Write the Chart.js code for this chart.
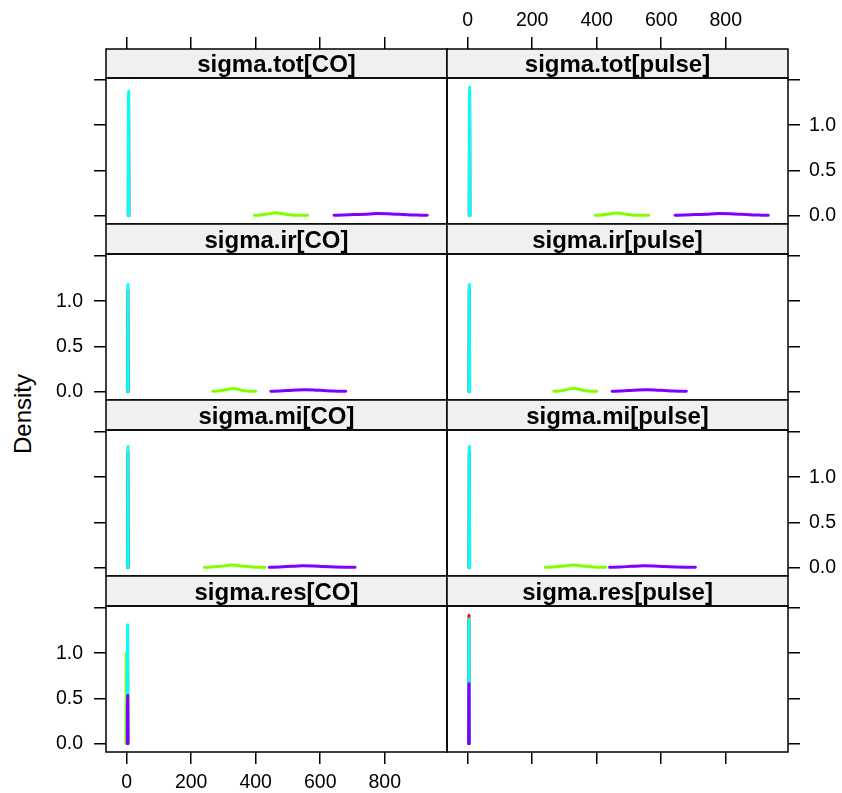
<!DOCTYPE html>
<html>
<head>
<meta charset="utf-8">
<script src="https://cdn.jsdelivr.net/npm/chart.js@4/dist/chart.umd.min.js"></script>
<style>
  html, body { margin: 0; padding: 0; background: #fff; }
  #wrap { position: relative; width: 842px; height: 793px; }
  #wrap canvas { position: absolute; left: 0; top: 0; }
  #ylab {
    position: absolute; left: 23px; top: 414px;
    transform: translate(-50%, -50%) rotate(-90deg);
    font: 24px "Liberation Sans", Arial, sans-serif; line-height: 1; white-space: nowrap;
  }
</style>
</head>
<body>
<div id="wrap"><div id="ylab">Density</div></div>
<script>
const panelNames = ['sigma.tot[CO]', 'sigma.tot[pulse]', 'sigma.ir[CO]', 'sigma.ir[pulse]',
  'sigma.mi[CO]', 'sigma.mi[pulse]', 'sigma.res[CO]', 'sigma.res[pulse]'];
const xTicks = [0, 200, 400, 600, 800];
const xTickLabels = ['0', '200', '400', '600', '800'];
const yTicks = [0, 0.5, 1, 1.5];
const yTickLabels = ['0.0', '0.5', '1.0', ''];
// chains 1-4
const chainColors = ['#FF0000', '#80FF00', '#00FFFF', '#8000FF'];

// density estimates per chain, [value, density]
const totCO = [
  [[5, 0], [5.5, 0.8], [6, 1.3], [6.5, 0.8], [7, 0]],
  [[396, 0.001], [415, 0.005], [432, 0.012], [448, 0.022], [462, 0.029], [476, 0.024], [492, 0.013], [510, 0.006], [530, 0.003], [548, 0.002], [561, 0.001]],
  [[5, 0], [5.5, 0.85], [6, 1.375], [6.5, 0.85], [7, 0]],
  [[643, 0.001], [672, 0.004], [705, 0.009], [740, 0.014], [775, 0.02], [810, 0.018], [845, 0.012], [880, 0.006], [910, 0.003], [932, 0.001]]
];
const totPulse = [
  [[5, 0], [5.5, 0.8], [6, 1.36], [6.5, 0.8], [7, 0]],
  [[396, 0.001], [415, 0.005], [432, 0.012], [448, 0.021], [462, 0.027], [476, 0.023], [492, 0.012], [510, 0.006], [530, 0.003], [548, 0.002], [561, 0.001]],
  [[5, 0], [5.5, 0.88], [6, 1.42], [6.5, 0.88], [7, 0]],
  [[643, 0.001], [672, 0.004], [705, 0.009], [740, 0.014], [780, 0.02], [815, 0.018], [850, 0.012], [885, 0.006], [912, 0.003], [932, 0.001]]
];
const irCO = [
  [[3, 0], [3.5, 0.7], [4, 1.12], [4.5, 0.7], [5, 0]],
  [[267, 0.002], [285, 0.006], [300, 0.013], [315, 0.024], [331, 0.032], [345, 0.024], [360, 0.01], [375, 0.004], [390, 0.002], [400, 0.001]],
  [[3, 0], [3.5, 0.74], [4, 1.185], [4.5, 0.74], [5, 0]],
  [[447, 0.001], [475, 0.005], [505, 0.011], [530, 0.016], [555, 0.018], [580, 0.016], [610, 0.01], [640, 0.004], [665, 0.002], [679, 0.001]]
];
const irPulse = [
  [[4, 0], [4.5, 0.7], [5, 1.13], [5.5, 0.7], [6, 0]],
  [[267, 0.002], [285, 0.006], [300, 0.014], [315, 0.026], [330, 0.034], [345, 0.025], [360, 0.011], [375, 0.004], [390, 0.002], [400, 0.001]],
  [[4, 0], [4.5, 0.74], [5, 1.185], [5.5, 0.74], [6, 0]],
  [[448, 0.001], [476, 0.005], [506, 0.011], [530, 0.016], [555, 0.018], [580, 0.016], [610, 0.01], [640, 0.004], [664, 0.002], [678, 0.001]]
];
const miCO = [
  [[3, 0], [3.5, 0.8], [4, 1.28], [4.5, 0.8], [5, 0]],
  [[241, 0.001], [265, 0.005], [290, 0.012], [310, 0.021], [326, 0.026], [345, 0.022], [365, 0.012], [390, 0.005], [410, 0.002], [429, 0.001]],
  [[3, 0], [3.5, 0.84], [4, 1.34], [4.5, 0.84], [5, 0]],
  [[442, 0.001], [475, 0.005], [510, 0.012], [545, 0.018], [575, 0.016], [610, 0.01], [645, 0.005], [680, 0.002], [708, 0.001]]
];
const miPulse = [
  [[4, 0], [4.5, 0.8], [5, 1.28], [5.5, 0.8], [6, 0]],
  [[241, 0.001], [265, 0.005], [290, 0.012], [310, 0.021], [326, 0.026], [345, 0.022], [365, 0.012], [390, 0.005], [410, 0.002], [428, 0.001]],
  [[4, 0], [4.5, 0.84], [5, 1.34], [5.5, 0.84], [6, 0]],
  [[440, 0.001], [473, 0.005], [508, 0.012], [545, 0.018], [575, 0.016], [608, 0.01], [643, 0.005], [678, 0.002], [706, 0.001]]
];
const resCO = [
  [[2, 0], [2.5, 0.6], [3, 0.95], [3.5, 0.6], [4, 0]],
  [[-2, 0], [-1.5, 0.64], [-1, 1.01], [-0.5, 0.64], [0, 0]],
  [[2, 0], [2.5, 0.82], [3, 1.315], [3.5, 0.82], [4, 0]],
  [[2, 0], [2.5, 0.34], [3, 0.53], [3.5, 0.34], [4, 0]]
];
const resPulse = [
  [[3, 0], [3.5, 0.9], [4, 1.42], [4.5, 0.9], [5, 0]],
  [[3, 0], [3.5, 0.28], [4, 0.45], [4.5, 0.28], [5, 0]],
  [[3, 0], [3.5, 0.86], [4, 1.38], [4.5, 0.86], [5, 0]],
  [[3, 0], [3.5, 0.42], [4, 0.66], [4.5, 0.42], [5, 0]]
];
const panelData = [totCO, totPulse, irCO, irPulse, miCO, miPulse, resCO, resPulse];

const wrap = document.getElementById('wrap');
const tickFont = { family: '"Liberation Sans", Arial, sans-serif', size: 19.5 };

function buildPanel(idx, chains) {
  const row = Math.floor(idx / 2);
  const col = idx % 2;
  // panel box in page pixels
  const left = col === 0 ? 106 : 447;
  const right = col === 0 ? 447 : 788;
  const top = 78 + row * 176;
  const bottom = top + 146;
  const stripH = row === 0 ? 29 : 30;
  // axis boxes must be wide enough for their labels, they are clipped to them
  const xAxisH = row === 0 ? 49 : row === 3 ? 41 : 0;
  const yAxisW = col === 0 ? left : 842 - right;

  const canvas = document.createElement('canvas');
  canvas.width = 842;
  canvas.height = 793;
  wrap.appendChild(canvas);

  const frame = {
    id: 'frame',
    afterLayout(chart) {
      // top axis sits above the strip
      if (row === 0) {
        chart.scales.x.top -= stripH;
        chart.scales.x.bottom -= stripH;
      }
    },
    afterDraw(chart) {
      const ctx = chart.ctx;
      const a = chart.chartArea;
      ctx.save();
      ctx.fillStyle = '#f0f0f0';
      ctx.fillRect(a.left, a.top - stripH, a.right - a.left, stripH);
      ctx.strokeStyle = '#000';
      ctx.lineWidth = 1.5;
      ctx.strokeRect(a.left, a.top - stripH, a.right - a.left, stripH);
      ctx.strokeRect(a.left, a.top, a.right - a.left, a.bottom - a.top);
      ctx.fillStyle = '#000';
      ctx.font = 'bold 24px "Liberation Sans", Arial, sans-serif';
      ctx.textAlign = 'center';
      ctx.textBaseline = 'alphabetic';
      ctx.fillText(panelNames[idx], (a.left + a.right) / 2, a.top - 6);
      ctx.restore();
    }
  };

  const tickGrid = { drawOnChartArea: false, drawTicks: true, tickLength: 12, color: '#000', lineWidth: 1.5 };

  new Chart(canvas, {
    type: 'line',
    data: {
      datasets: chains.map((pts, k) => ({
        data: pts.map(p => ({ x: p[0], y: p[1] })),
        borderColor: chainColors[k],
        borderWidth: 3,
        pointRadius: 0,
        fill: false,
        cubicInterpolationMode: 'monotone',
        borderCapStyle: 'round',
        borderJoinStyle: 'round',
        order: chains.length - k
      }))
    },
    options: {
      responsive: false,
      animation: false,
      devicePixelRatio: 1,
      events: [],
      layout: {
        padding: {
          left: col === 0 ? 0 : left,
          right: col === 0 ? 842 - right : 0,
          top: row === 0 ? top - xAxisH : top,
          bottom: row === 3 ? 793 - bottom - xAxisH : 793 - bottom
        }
      },
      plugins: { legend: { display: false }, tooltip: { enabled: false } },
      scales: {
        x: {
          type: 'linear',
          min: -64,
          max: 993,
          position: row === 0 ? 'top' : 'bottom',
          display: row === 0 || row === 3,
          afterBuildTicks: s => { s.ticks = xTicks.map(v => ({ value: v })); },
          afterFit: s => { s.height = xAxisH; },
          grid: tickGrid,
          border: { display: false },
          ticks: {
            display: (row === 0 && col === 1) || (row === 3 && col === 0),
            autoSkip: false,
            maxRotation: 0,
            padding: row === 0 ? 5 : 7,
            color: '#000',
            font: tickFont,
            callback: (v, i) => xTickLabels[i]
          }
        },
        y: {
          type: 'linear',
          min: -0.095,
          max: 1.522,
          position: col === 0 ? 'left' : 'right',
          afterBuildTicks: s => { s.ticks = yTicks.map(v => ({ value: v })); },
          afterFit: s => { s.width = yAxisW; },
          grid: tickGrid,
          border: { display: false },
          ticks: {
            display: col === 0 ? row % 2 === 1 : row % 2 === 0,
            padding: col === 0 ? 11 : 9,
            color: '#000',
            font: tickFont,
            callback: (v, i) => yTickLabels[i]
          }
        }
      }
    },
    plugins: [frame]
  });
}

panelData.forEach((chains, i) => buildPanel(i, chains));
</script>
</body>
</html>
